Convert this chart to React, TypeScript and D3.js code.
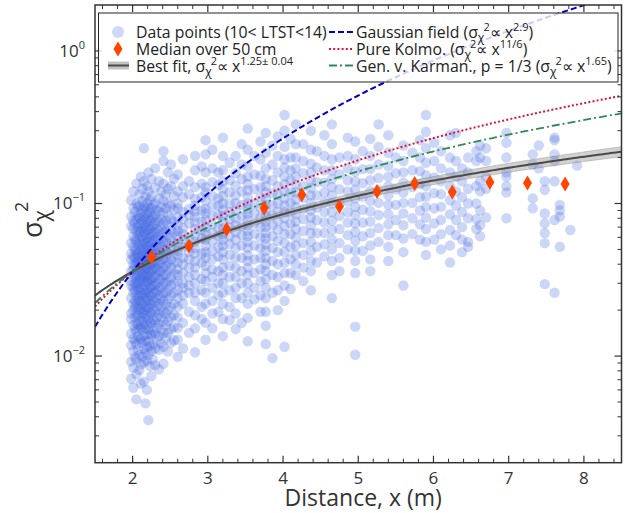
import React from "react";
import * as d3 from "d3";

// scatter streaks: [distance (m), sigma_chi^2 values]
const colsNear2: [number, number[]][] = [
  [1.98, [0.105, 0.082, 0.071, 0.055, 0.047, 0.043, 0.036, 0.031, 0.029, 0.024, 0.019, 0.0175, 0.014, 0.0118, 0.0092, 0.0071]],
  [2.01, [0.12, 0.093, 0.077, 0.068, 0.061, 0.052, 0.045, 0.04, 0.037, 0.033, 0.028, 0.026, 0.022, 0.02, 0.016, 0.013, 0.0108, 0.0084, 0.0062]],
  [2.03, [0.088, 0.074, 0.058, 0.05, 0.044, 0.039, 0.034, 0.03, 0.027, 0.023, 0.021, 0.018, 0.015, 0.0125, 0.0098]],
  [2.05, [0.135, 0.1, 0.079, 0.066, 0.057, 0.049, 0.046, 0.041, 0.035, 0.032, 0.029, 0.025, 0.022, 0.019, 0.0165, 0.0145, 0.012, 0.0095, 0.0076, 0.0052]],
  [2.07, [0.095, 0.083, 0.07, 0.063, 0.054, 0.047, 0.042, 0.038, 0.034, 0.03, 0.027, 0.024, 0.021, 0.0185, 0.016, 0.0135, 0.011]],
  [2.09, [0.115, 0.097, 0.081, 0.073, 0.065, 0.059, 0.051, 0.044, 0.04, 0.036, 0.031, 0.028, 0.025, 0.023, 0.02, 0.017, 0.015, 0.0128, 0.0102, 0.0081]],
  [2.11, [0.15, 0.086, 0.075, 0.066, 0.056, 0.05, 0.045, 0.041, 0.037, 0.033, 0.03, 0.026, 0.023, 0.0205, 0.018, 0.0155, 0.013, 0.0088, 0.0066]],
  [2.13, [0.125, 0.104, 0.09, 0.078, 0.069, 0.061, 0.054, 0.048, 0.043, 0.039, 0.035, 0.032, 0.028, 0.025, 0.022, 0.0195, 0.017, 0.0148, 0.0122, 0.0099]],
  [2.15, [0.23, 0.14, 0.095, 0.082, 0.072, 0.064, 0.057, 0.051, 0.046, 0.042, 0.038, 0.034, 0.031, 0.027, 0.024, 0.021, 0.0188, 0.016, 0.0135, 0.0112, 0.0091, 0.0068]],
  [2.17, [0.11, 0.092, 0.079, 0.07, 0.062, 0.055, 0.049, 0.044, 0.04, 0.036, 0.033, 0.029, 0.026, 0.023, 0.02, 0.0178, 0.0152, 0.0126, 0.0105, 0.0049]],
  [2.19, [0.13, 0.101, 0.087, 0.076, 0.067, 0.059, 0.053, 0.047, 0.042, 0.038, 0.034, 0.031, 0.027, 0.024, 0.021, 0.0185, 0.016, 0.0138, 0.0115, 0.0093, 0.006]],
  [2.21, [0.16, 0.12, 0.094, 0.081, 0.071, 0.063, 0.056, 0.05, 0.045, 0.041, 0.037, 0.033, 0.03, 0.026, 0.023, 0.0205, 0.0175, 0.015, 0.0125, 0.0102, 0.0038]],
  [2.23, [0.105, 0.088, 0.077, 0.068, 0.06, 0.053, 0.047, 0.043, 0.039, 0.035, 0.031, 0.028, 0.025, 0.022, 0.0192, 0.0166, 0.014, 0.0117, 0.0086]],
  [2.25, [0.145, 0.112, 0.093, 0.08, 0.07, 0.062, 0.055, 0.049, 0.044, 0.04, 0.036, 0.032, 0.029, 0.025, 0.022, 0.019, 0.0163, 0.0138, 0.0108, 0.0074]],
  [2.27, [0.098, 0.083, 0.072, 0.064, 0.057, 0.051, 0.045, 0.041, 0.037, 0.033, 0.029, 0.026, 0.023, 0.02, 0.0172, 0.0145, 0.0119, 0.0095]],
  [2.3, [0.17, 0.127, 0.1, 0.085, 0.074, 0.065, 0.058, 0.052, 0.046, 0.041, 0.037, 0.033, 0.029, 0.026, 0.0225, 0.0195, 0.0167, 0.014, 0.0112, 0.0087]],
  [2.32, [0.091, 0.078, 0.068, 0.06, 0.053, 0.047, 0.042, 0.038, 0.034, 0.03, 0.027, 0.024, 0.021, 0.018, 0.0154, 0.0128]],
  [2.35, [0.14, 0.108, 0.089, 0.076, 0.066, 0.058, 0.051, 0.045, 0.04, 0.036, 0.032, 0.028, 0.025, 0.022, 0.019, 0.0162, 0.0135, 0.011, 0.0082]],
  [2.38, [0.12, 0.095, 0.079, 0.068, 0.059, 0.052, 0.046, 0.041, 0.036, 0.032, 0.028, 0.024, 0.021, 0.018, 0.0148, 0.0121]],
  [2.41, [0.22, 0.19, 0.135, 0.104, 0.087, 0.074, 0.064, 0.056, 0.049, 0.043, 0.038, 0.034, 0.03, 0.026, 0.023, 0.0195, 0.0168, 0.0141, 0.0115, 0.0089]],
  [2.44, [0.115, 0.093, 0.077, 0.066, 0.057, 0.05, 0.044, 0.039, 0.034, 0.03, 0.026, 0.022, 0.019, 0.016, 0.0132]],
  [2.47, [0.16, 0.125, 0.1, 0.084, 0.072, 0.062, 0.054, 0.047, 0.041, 0.036, 0.031, 0.027, 0.0235, 0.02, 0.017, 0.0142, 0.0107]],
  [2.51, [0.18, 0.13, 0.097, 0.079, 0.067, 0.058, 0.05, 0.043, 0.038, 0.033, 0.029, 0.025, 0.021, 0.018, 0.015, 0.0122]],
  [2.55, [0.145, 0.112, 0.091, 0.076, 0.064, 0.055, 0.047, 0.041, 0.035, 0.03, 0.026, 0.022, 0.0185, 0.0155, 0.0127]],
];

const cols3to4: [number, number[]][] = [
  [2.6, [0.155, 0.12, 0.1, 0.093, 0.081, 0.072, 0.066, 0.061, 0.055, 0.049, 0.046, 0.041, 0.037, 0.034, 0.031, 0.027, 0.024, 0.021, 0.018, 0.0153, 0.0128, 0.0099]],
  [2.67, [0.195, 0.13, 0.11, 0.088, 0.079, 0.069, 0.063, 0.058, 0.052, 0.044, 0.04, 0.035, 0.03, 0.028, 0.025, 0.022, 0.0165, 0.0112]],
  [2.75, [0.14, 0.115, 0.092, 0.084, 0.074, 0.06, 0.053, 0.048, 0.043, 0.038, 0.033, 0.029, 0.026, 0.0195, 0.0142]],
  [2.83, [0.205, 0.165, 0.128, 0.107, 0.097, 0.089, 0.082, 0.075, 0.068, 0.062, 0.056, 0.051, 0.047, 0.042, 0.038, 0.034, 0.03, 0.026, 0.023, 0.0185, 0.0152, 0.0106]],
  [2.92, [0.175, 0.135, 0.11, 0.09, 0.076, 0.067, 0.059, 0.047, 0.041, 0.032, 0.027, 0.021, 0.0175]],
  [2.97, [0.26, 0.21, 0.16, 0.128, 0.118, 0.104, 0.092, 0.086, 0.078, 0.07, 0.064, 0.058, 0.053, 0.048, 0.044, 0.039, 0.035, 0.031, 0.026, 0.022, 0.0165, 0.0128]],
  [3.06, [0.225, 0.17, 0.138, 0.112, 0.096, 0.083, 0.073, 0.064, 0.057, 0.049, 0.043, 0.037, 0.033, 0.028, 0.023, 0.019, 0.0152]],
  [3.14, [0.16, 0.132, 0.108, 0.097, 0.084, 0.069, 0.061, 0.052, 0.045, 0.036, 0.03, 0.025, 0.0195]],
  [3.2, [0.27, 0.205, 0.165, 0.14, 0.125, 0.112, 0.1, 0.091, 0.083, 0.076, 0.069, 0.063, 0.058, 0.053, 0.048, 0.043, 0.038, 0.034, 0.03, 0.026, 0.022, 0.0175, 0.0135]],
  [3.29, [0.185, 0.142, 0.118, 0.1, 0.088, 0.079, 0.07, 0.061, 0.054, 0.046, 0.039, 0.033, 0.027, 0.021, 0.0172]],
  [3.37, [0.205, 0.158, 0.131, 0.113, 0.101, 0.09, 0.08, 0.072, 0.065, 0.058, 0.051, 0.044, 0.038, 0.033, 0.028, 0.024, 0.019, 0.015]],
  [3.45, [0.245, 0.18, 0.145, 0.12, 0.098, 0.083, 0.071, 0.062, 0.053, 0.044, 0.036, 0.03, 0.024, 0.0165]],
  [3.53, [0.31, 0.225, 0.175, 0.15, 0.135, 0.122, 0.11, 0.1, 0.092, 0.085, 0.078, 0.072, 0.066, 0.061, 0.056, 0.051, 0.046, 0.042, 0.038, 0.034, 0.03, 0.026, 0.022, 0.0178, 0.0125]],
  [3.62, [0.205, 0.155, 0.124, 0.1, 0.086, 0.074, 0.063, 0.053, 0.043, 0.035, 0.028, 0.0235]],
  [3.7, [0.255, 0.195, 0.152, 0.128, 0.11, 0.094, 0.081, 0.07, 0.06, 0.051, 0.044, 0.037, 0.031, 0.025, 0.0195]],
  [3.77, [0.29, 0.215, 0.17, 0.145, 0.13, 0.118, 0.107, 0.098, 0.09, 0.083, 0.076, 0.07, 0.064, 0.059, 0.054, 0.049, 0.044, 0.04, 0.036, 0.032, 0.028, 0.024, 0.0195, 0.0158, 0.012]],
  [3.86, [0.24, 0.18, 0.142, 0.117, 0.098, 0.084, 0.072, 0.061, 0.051, 0.042, 0.034, 0.026, 0.0097]],
  [3.93, [0.275, 0.205, 0.16, 0.13, 0.114, 0.1, 0.088, 0.077, 0.067, 0.057, 0.048, 0.04, 0.033, 0.027, 0.02]],
];

const cols4to6: [number, number[]][] = [
  [4.02, [0.38, 0.3, 0.235, 0.195, 0.172, 0.15, 0.134, 0.12, 0.108, 0.097, 0.088, 0.08, 0.071, 0.063, 0.055, 0.048, 0.041, 0.035, 0.029, 0.023, 0.0115]],
  [4.1, [0.265, 0.2, 0.165, 0.142, 0.118, 0.101, 0.087, 0.074, 0.063, 0.052, 0.043, 0.035, 0.0275]],
  [4.17, [0.33, 0.245, 0.2, 0.17, 0.15, 0.133, 0.118, 0.106, 0.095, 0.085, 0.076, 0.068, 0.06, 0.053, 0.046, 0.04, 0.034]],
  [4.27, [0.245, 0.19, 0.158, 0.13, 0.109, 0.092, 0.079, 0.066, 0.055, 0.046, 0.038, 0.031]],
  [4.37, [0.3, 0.225, 0.182, 0.16, 0.142, 0.126, 0.113, 0.101, 0.09, 0.081, 0.072, 0.064, 0.056, 0.049, 0.042, 0.036, 0.027]],
  [4.45, [0.22, 0.172, 0.138, 0.113, 0.094, 0.078, 0.064, 0.052, 0.041]],
  [4.55, [0.28, 0.205, 0.165, 0.137, 0.118, 0.102, 0.088, 0.075, 0.064, 0.054, 0.045]],
  [4.65, [0.33, 0.245, 0.195, 0.165, 0.145, 0.128, 0.113, 0.1, 0.088, 0.077, 0.067, 0.058, 0.05, 0.042, 0.034, 0.024]],
  [4.75, [0.2, 0.155, 0.124, 0.101, 0.083, 0.068, 0.055, 0.044, 0.036]],
  [4.86, [0.27, 0.205, 0.17, 0.142, 0.12, 0.103, 0.088, 0.075, 0.062, 0.05]],
  [4.96, [0.255, 0.195, 0.162, 0.14, 0.123, 0.108, 0.095, 0.084, 0.074, 0.065, 0.057, 0.049, 0.042, 0.035, 0.0156, 0.0102]],
  [5.06, [0.22, 0.168, 0.136, 0.111, 0.091, 0.075, 0.061, 0.049]],
  [5.16, [0.265, 0.205, 0.168, 0.142, 0.121, 0.104, 0.089, 0.076, 0.064, 0.053, 0.043, 0.036]],
  [5.27, [0.33, 0.235, 0.18, 0.147, 0.122, 0.101, 0.084, 0.069, 0.056]],
  [5.4, [0.28, 0.215, 0.176, 0.15, 0.13, 0.113, 0.098, 0.085, 0.073, 0.062, 0.052, 0.042]],
  [5.5, [0.2, 0.158, 0.124, 0.098, 0.078, 0.062]],
  [5.6, [0.24, 0.19, 0.16, 0.137, 0.118, 0.101, 0.086, 0.072, 0.059, 0.048, 0.029]],
  [5.72, [0.215, 0.165, 0.128, 0.101, 0.08, 0.063]],
  [5.82, [0.26, 0.2, 0.163, 0.134, 0.11, 0.09, 0.073, 0.058]],
  [5.9, [0.38, 0.295, 0.23, 0.185, 0.153, 0.13, 0.111, 0.095, 0.081, 0.068, 0.056, 0.046]],
  [6.01, [0.25, 0.19, 0.148, 0.117, 0.093, 0.074, 0.058]],
];

const cols6to8: [number, number[]][] = [
  [6.1, [0.22, 0.17, 0.14, 0.115, 0.095, 0.078, 0.063, 0.05]],
  [6.22, [0.28, 0.2, 0.16, 0.13, 0.105, 0.085, 0.067, 0.053, 0.041]],
  [6.3, [0.29, 0.19, 0.15, 0.12, 0.097, 0.078, 0.062]],
  [6.38, [0.17, 0.14, 0.11, 0.088, 0.07, 0.058, 0.048]],
  [6.46, [0.2, 0.16, 0.125, 0.1, 0.08, 0.056, 0.052]],
  [6.57, [0.22, 0.19, 0.13, 0.1, 0.079, 0.068]],
  [6.62, [0.24, 0.2, 0.14, 0.12, 0.09, 0.072, 0.061]],
  [6.7, [0.23, 0.19, 0.15, 0.125, 0.081]],
  [6.97, [0.29, 0.25, 0.2, 0.16, 0.15, 0.13, 0.118, 0.08]],
  [7.32, [0.21, 0.18, 0.108, 0.093]],
  [7.4, [0.24, 0.17]],
  [7.48, [0.14, 0.123, 0.086, 0.074, 0.064, 0.055, 0.0296]],
  [7.61, [0.27, 0.26, 0.21, 0.19, 0.14, 0.078, 0.026]],
  [7.68, [0.098, 0.09, 0.082, 0.052]],
  [7.82, [0.067]],
  [7.91, [0.177]],
];

const medianX = [2.25, 2.75, 3.25, 3.75, 4.25, 4.75, 5.25, 5.75, 6.25, 6.75, 7.25, 7.75];
const medianY = [0.0445, 0.0527, 0.0679, 0.0933, 0.114, 0.0955, 0.12, 0.135, 0.119, 0.138, 0.136, 0.134];

// power-law curves, all anchored at (x0, s0)
const x0 = 2;
const s0 = 0.0358;
const fitExp = 1.25;
const fitErr = 0.04;
const fitPivot = 1.3;
const gaussExp = 2.9;
const kolmoExp = 11 / 6;
const karmanExp = 1.65;

const xMajor = [2, 3, 4, 5, 6, 7, 8];
const yMajor = [0.01, 0.1, 1];
const yMajorExp = ["−2", "−1", "0"];

const W = 625;
const H = 513;
const L = 95, R = 621.5, T = 5, B = 462.7;
const FONT = "'Open Sans', 'Noto Sans', sans-serif";

export default function App() {
  const x = d3.scaleLinear().domain([1.5, 8.5]).range([L, R]);
  const y = d3.scaleLog().domain([0.002, 2]).range([B, T]);

  const points = [...colsNear2, ...cols3to4, ...cols4to6, ...cols6to8].flatMap(([cx, ys]) =>
    ys.map((v) => ({ x: cx, y: v }))
  );

  const xs = d3.range(1.5, 8.5001, 0.035);
  const law = (p: number) => (v: number) => s0 * Math.pow(v / x0, p);
  const line = (f: (v: number) => number) =>
    d3.line<number>().x((d) => x(d)).y((d) => y(f(d)))(xs) || "";

  const fit = law(fitExp);
  const band =
    d3
      .area<number>()
      .x((d) => x(d))
      .y0((d) => y(fit(d) * Math.pow(d / fitPivot, -fitErr)))
      .y1((d) => y(fit(d) * Math.pow(d / fitPivot, fitErr)))(xs) || "";

  const xMinor = d3.range(1.6, 8.45, 0.2).filter((v) => Math.abs(v - Math.round(v)) > 0.01);
  const yMinor: number[] = [];
  [0.001, 0.01, 0.1, 1].forEach((dec) => {
    for (let k = 2; k <= 9; k++) {
      const v = dec * k;
      if (v > 0.002 && v < 2) yMinor.push(v);
    }
  });

  const diamond = (cx: number, cy: number, w: number, h: number) =>
    `M${cx},${cy - h / 2}L${cx + w / 2},${cy}L${cx},${cy + h / 2}L${cx - w / 2},${cy}Z`;

  const axisColor = "#333";
  const lgX1 = 118;
  const lgX2 = 329;
  const rows = [32, 49, 65.5];

  // "<lead>σχ²∝ x^exp<tail>"
  const lawLabel = (lead: string, exp: string, tail: string) => (
    <>
      <tspan>{lead}σ</tspan>
      <tspan dy={4} fontSize={12}>χ</tspan>
      <tspan dy={-11} dx={-1} fontSize={11}>2</tspan>
      <tspan dy={7}>∝ x</tspan>
      <tspan dy={-7} fontSize={11}>{exp}</tspan>
      <tspan dy={7}>{tail}</tspan>
    </>
  );

  return (
    <svg width={W} height={H} style={{ position: "absolute", left: 0, top: 0 }} fontFamily={FONT}>
      <rect width={W} height={H} fill="#fff" />
      <defs>
        <clipPath id="plot">
          <rect x={L} y={T} width={R - L} height={B - T} />
        </clipPath>
      </defs>
      <g clipPath="url(#plot)">
        {points.map((p, i) => (
          <circle key={i} cx={x(p.x)} cy={y(p.y)} r={5.2} fill="#4169e1" fillOpacity={0.27} />
        ))}
        <path d={band} fill="#9a9a9a" fillOpacity={0.45} stroke="#888" strokeOpacity={0.5} strokeWidth={0.8} />
        <path d={line(fit)} fill="none" stroke="#4a4a4a" strokeWidth={2} />
        <path d={line(law(gaussExp))} fill="none" stroke="#0000cd" strokeWidth={2} strokeDasharray="6,3" />
        <path d={line(law(kolmoExp))} fill="none" stroke="#dc143c" strokeWidth={2} strokeDasharray="2,2.2" />
        <path d={line(law(karmanExp))} fill="none" stroke="#2e8b57" strokeWidth={1.8} strokeDasharray="8,3,2,3" />
        {medianX.map((mx, i) => (
          <path key={i} d={diamond(x(mx), y(medianY[i]), 9, 15)} fill="#ff4500" />
        ))}
      </g>

      {/* frame and ticks */}
      <rect x={L} y={T} width={R - L} height={B - T} fill="none" stroke={axisColor} strokeWidth={1.5} />
      {xMajor.map((v) => (
        <g key={"xm" + v} stroke={axisColor} strokeWidth={1.2}>
          <line x1={x(v)} x2={x(v)} y1={B} y2={B - 7} />
          <line x1={x(v)} x2={x(v)} y1={T} y2={T + 7} />
        </g>
      ))}
      {xMinor.map((v) => (
        <g key={"xn" + v} stroke={axisColor} strokeWidth={1}>
          <line x1={x(v)} x2={x(v)} y1={B} y2={B - 4} />
          <line x1={x(v)} x2={x(v)} y1={T} y2={T + 4} />
        </g>
      ))}
      {yMajor.map((v) => (
        <g key={"ym" + v} stroke={axisColor} strokeWidth={1.2}>
          <line x1={L} x2={L + 7} y1={y(v)} y2={y(v)} />
          <line x1={R} x2={R - 7} y1={y(v)} y2={y(v)} />
        </g>
      ))}
      {yMinor.map((v) => (
        <g key={"yn" + v} stroke={axisColor} strokeWidth={1}>
          <line x1={L} x2={L + 4} y1={y(v)} y2={y(v)} />
          <line x1={R} x2={R - 4} y1={y(v)} y2={y(v)} />
        </g>
      ))}

      {/* tick labels */}
      {xMajor.map((v) => (
        <text key={"xl" + v} x={x(v)} y={484} textAnchor="middle" fontSize={17} fill={axisColor}>
          {v}
        </text>
      ))}
      {yMajor.map((v, i) => (
        <text key={"yl" + v} x={85} y={y(v) + 6} textAnchor="end" fontSize={17} fill={axisColor}>
          <tspan>10</tspan>
          <tspan dy={-8} fontSize={11}>{yMajorExp[i]}</tspan>
        </text>
      ))}

      {/* axis titles */}
      <text x={(L + R) / 2 + 5} y={506} textAnchor="middle" fontSize={23} fill={axisColor}>
        Distance, x (m)
      </text>
      <text transform="translate(42,238) rotate(-90)" fontSize={27} fill={axisColor}>
        <tspan>σ</tspan>
        <tspan dy={7} fontSize={21}>χ</tspan>
        <tspan dy={-21} dx={-2} fontSize={18}>2</tspan>
      </text>

      {/* legend */}
      <rect x={98.5} y={13} width={519.5} height={69} fill="#fff" fillOpacity={0.8} stroke="#222" strokeWidth={1} />
      <circle cx={lgX1} cy={rows[0]} r={6} fill="#4169e1" fillOpacity={0.25} />
      <path d={diamond(lgX1, rows[1], 9, 15)} fill="#ff4500" />
      <rect x={lgX1 - 10} y={rows[2] - 4} width={21} height={8} fill="#9a9a9a" fillOpacity={0.6} />
      <line x1={lgX1 - 10} x2={lgX1 + 11} y1={rows[2]} y2={rows[2]} stroke="#4a4a4a" strokeWidth={2} />
      <line x1={lgX2} x2={lgX2 + 25} y1={rows[0]} y2={rows[0]} stroke="#0000cd" strokeWidth={2} strokeDasharray="6,3" />
      <line x1={lgX2} x2={lgX2 + 25} y1={rows[1]} y2={rows[1]} stroke="#dc143c" strokeWidth={2} strokeDasharray="2,2.2" />
      <line x1={lgX2} x2={lgX2 + 25} y1={rows[2]} y2={rows[2]} stroke="#2e8b57" strokeWidth={1.8} strokeDasharray="8,3,2,3" />
      <g fontSize={15.8} fill="#222">
        <text x={136} y={rows[0] + 6}>Data points (10&lt; LTST&lt;14)</text>
        <text x={136} y={rows[1] + 6}>Median over 50 cm</text>
        <text x={136} y={rows[2] + 6}>{lawLabel("Best fit, ", "1.25± 0.04", "")}</text>
        <text x={356} y={rows[0] + 6}>{lawLabel("Gaussian field (", "2.9", ")")}</text>
        <text x={356} y={rows[1] + 6}>{lawLabel("Pure Kolmo. (", "11/6", ")")}</text>
        <text x={356} y={rows[2] + 6}>{lawLabel("Gen. v. Karman., p = 1/3 (", "1.65", ")")}</text>
      </g>
    </svg>
  );
}
